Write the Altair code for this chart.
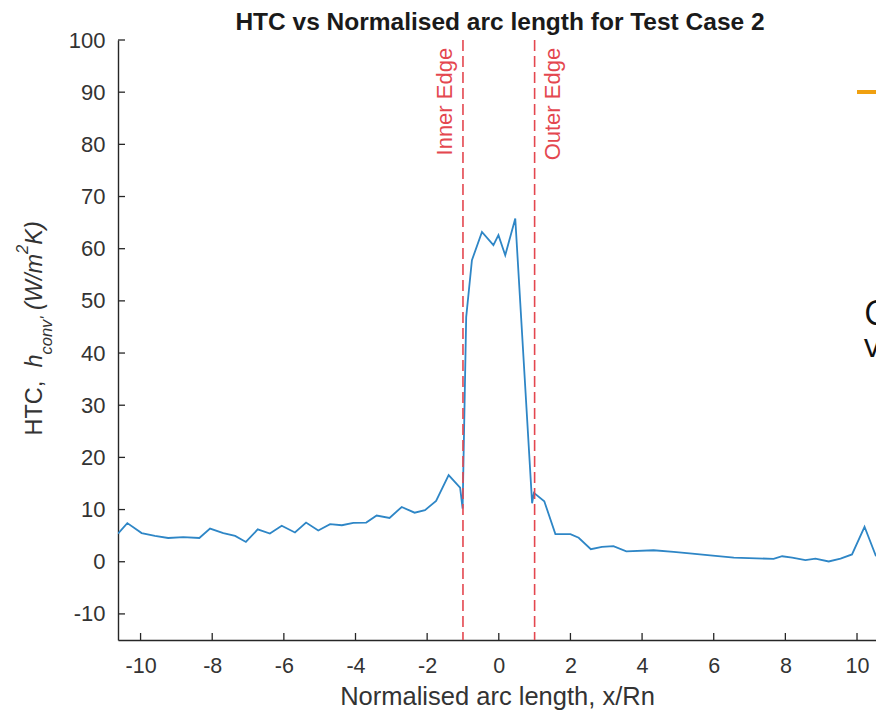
import altair as alt
import pandas as pd

# ---------------- data ----------------
x_vals = [-10.63, -10.37, -9.97, -9.60, -9.23, -8.81, -8.36, -8.06, -7.69, -7.36,
          -7.06, -6.73, -6.39, -6.06, -5.69, -5.38, -5.04, -4.71, -4.38, -4.06,
          -3.70, -3.41, -3.05, -2.71, -2.35, -2.06, -1.75, -1.40, -1.08, -1.01,
          -0.91, -0.75, -0.47, -0.15, -0.01, 0.18, 0.46, 0.93, 0.98, 1.27,
          1.58, 2.00, 2.23, 2.57, 2.88, 3.20, 3.56, 4.32, 4.88, 5.40,
          5.90, 6.56, 7.67, 7.91, 8.19, 8.56, 8.84, 9.21, 9.54, 9.86,
          10.21, 10.53]
htc_vals = [5.4, 7.4, 5.5, 4.95, 4.55, 4.7, 4.55, 6.35, 5.5, 4.95,
            3.8, 6.2, 5.4, 6.9, 5.6, 7.5, 6.0, 7.2, 7.0, 7.45,
            7.5, 8.85, 8.4, 10.5, 9.4, 9.9, 11.65, 16.6, 14.2, 10.2,
            46.9, 57.8, 63.2, 60.7, 62.6, 58.75, 65.8, 11.2, 13.2, 11.6,
            5.3, 5.3, 4.6, 2.4, 2.85, 3.0, 2.0, 2.2, 1.9, 1.55,
            1.2, 0.8, 0.55, 1.05, 0.8, 0.3, 0.6, 0.05, 0.6, 1.4,
            6.7, 1.05]
edge_x = [-1, 1]
edge_labels = ["Inner Edge", "Outer Edge"]
x_ticks = [-10, -8, -6, -4, -2, 0, 2, 4, 6, 8, 10]
y_ticks = [-10, 0, 10, 20, 30, 40, 50, 60, 70, 80, 90, 100]

title_text = "HTC vs Normalised arc length for Test Case 2"
x_title = "Normalised arc length, x/Rn"

# ---------------- styling ----------------
W, H = 758, 600
XDOM = [-10.63, 10.53]
YDOM = [-15, 100]
FONT = "Liberation Sans"
AX = "#262626"
LBL = "#333333"
BLUE = "#2e86c6"
RED = "#e4474f"

xs = alt.Scale(domain=XDOM, nice=False, zero=False)
ys = alt.Scale(domain=YDOM, nice=False, zero=False)

X_AX = alt.Axis(values=x_ticks, ticks=False, grid=False,
                domainColor=AX, domainWidth=1.4,
                labelFont=FONT, labelFontSize=21.5, labelColor=LBL,
                labelPadding=15, labelExpr="'' + datum.value",
                title=x_title, titleFont=FONT, titleFontSize=25.5,
                titleFontWeight="normal", titleColor=LBL,
                titleBaseline="alphabetic", titleY=64)
Y_AX = alt.Axis(values=y_ticks, ticks=False, grid=False,
                domainColor=AX, domainWidth=1.4,
                labelFont=FONT, labelFontSize=22, labelColor=LBL,
                labelPadding=13, labelExpr="'' + datum.value",
                title=None)


def X(field):
    return alt.X(field, scale=xs, axis=X_AX)


def Y(field):
    return alt.Y(field, scale=ys, axis=Y_AX)


df = pd.DataFrame({"x": x_vals, "htc": htc_vals})

line = alt.Chart(df).mark_line(color=BLUE, strokeWidth=1.8, clip=True).encode(
    x=X("x:Q"), y=Y("htc:Q"))

# inward ticks (MATLAB style)
ytick_layer = alt.Chart(pd.DataFrame({"htc": y_ticks})).mark_rule(
    color=AX, strokeWidth=1.3).encode(
    y=Y("htc:Q"), x=alt.value(0), x2=alt.value(7))
xtick_layer = alt.Chart(pd.DataFrame({"x": x_ticks})).mark_rule(
    color=AX, strokeWidth=1.3).encode(
    x=X("x:Q"), y=alt.value(H), y2=alt.value(H - 7))

edges_df = pd.DataFrame({"x": edge_x, "lab": edge_labels, "htc": [98.5, 98.5]})
edge_rules = alt.Chart(edges_df).mark_rule(
    color=RED, strokeWidth=1.6, strokeDash=[11, 5]).encode(
    x=X("x:Q"), y=alt.value(0), y2=alt.value(H))

inner_lbl = alt.Chart(edges_df.iloc[[0]]).mark_text(
    angle=270, align="right", baseline="alphabetic", dy=-11,
    font=FONT, fontSize=22, color=RED).encode(
    x=X("x:Q"), y=Y("htc:Q"), text="lab:N")
outer_lbl = alt.Chart(edges_df.iloc[[1]]).mark_text(
    angle=270, align="right", baseline="alphabetic", dy=25,
    font=FONT, fontSize=22, color=RED).encode(
    x=X("x:Q"), y=Y("htc:Q"), text="lab:N")

# ---------------- chart title ----------------
title_mark = alt.Chart(pd.DataFrame({"t": [title_text]})).mark_text(
    align="center", baseline="alphabetic", font=FONT, fontSize=24.5,
    fontWeight="bold", color="#1a1a1a").encode(
    text="t:N", x=alt.value(382), y=alt.value(-10))

# ---------------- y-axis title with sub/superscripts ----------------
FS, SFS = 23.5, 16.5
AW = {"H": 722, "T": 611, "C": 722, ",": 278, " ": 278, "h": 556, "c": 500,
      "o": 556, "n": 556, "v": 500, "'": 191, "(": 333, "W": 944, "/": 278,
      "m": 833, "2": 556, "K": 667, ")": 333}


def tw(s, fs):
    return sum(AW.get(ch, 556) for ch in s) / 1000.0 * fs


# (text, font size, style, baseline shift, gap before in spaces)
pieces = [("HTC,", FS, "normal", 0, 0), ("h", FS, "italic", 0, 2),
          ("conv'", SFS, "italic", 10, 0), ("(W/m", FS, "italic", 0, 1),
          ("2", SFS, "italic", -14, 0), ("K)", FS, "italic", 0, 0)]
base_x = -76
ypos = 395.5
ytitle_layers = []
for txt, fs, style, shift, gap in pieces:
    ypos -= gap * tw(" ", FS)
    ytitle_layers.append(
        alt.Chart(pd.DataFrame({"t": [txt]})).mark_text(
            angle=270, align="left", baseline="alphabetic", font=FONT,
            fontSize=fs, fontStyle=style, color=LBL).encode(
            text="t:N", x=alt.value(base_x + shift), y=alt.value(ypos)))
    ypos -= tw(txt, fs)

# ---------------- cropped slide fragments at the right edge ----------------
orange = alt.Chart(pd.DataFrame({"a": [0]})).mark_rule(
    color="#f0a010", strokeWidth=4).encode(
    x=alt.value(739), x2=alt.value(770), y=alt.value(52))
frag1 = alt.Chart(pd.DataFrame({"t": ["C"]})).mark_text(
    align="left", baseline="alphabetic", font="Open Sans", fontSize=34,
    color="#111111").encode(text="t:N", x=alt.value(746), y=alt.value(285))
frag2 = alt.Chart(pd.DataFrame({"t": ["va"]})).mark_text(
    align="left", baseline="alphabetic", font="Open Sans", fontSize=33,
    color="#111111").encode(text="t:N", x=alt.value(746), y=alt.value(317))

chart = alt.layer(
    line, edge_rules, ytick_layer, xtick_layer, inner_lbl, outer_lbl,
    title_mark, *ytitle_layers, orange, frag1, frag2
).properties(
    width=W, height=H, background="white",
    autosize=alt.AutoSizeParams(type="none"),
    padding={"left": 110, "top": 32, "right": 0, "bottom": 72},
).configure_view(stroke=None)

chart.save("out.html", embed_options={"renderer": "svg", "actions": False})
